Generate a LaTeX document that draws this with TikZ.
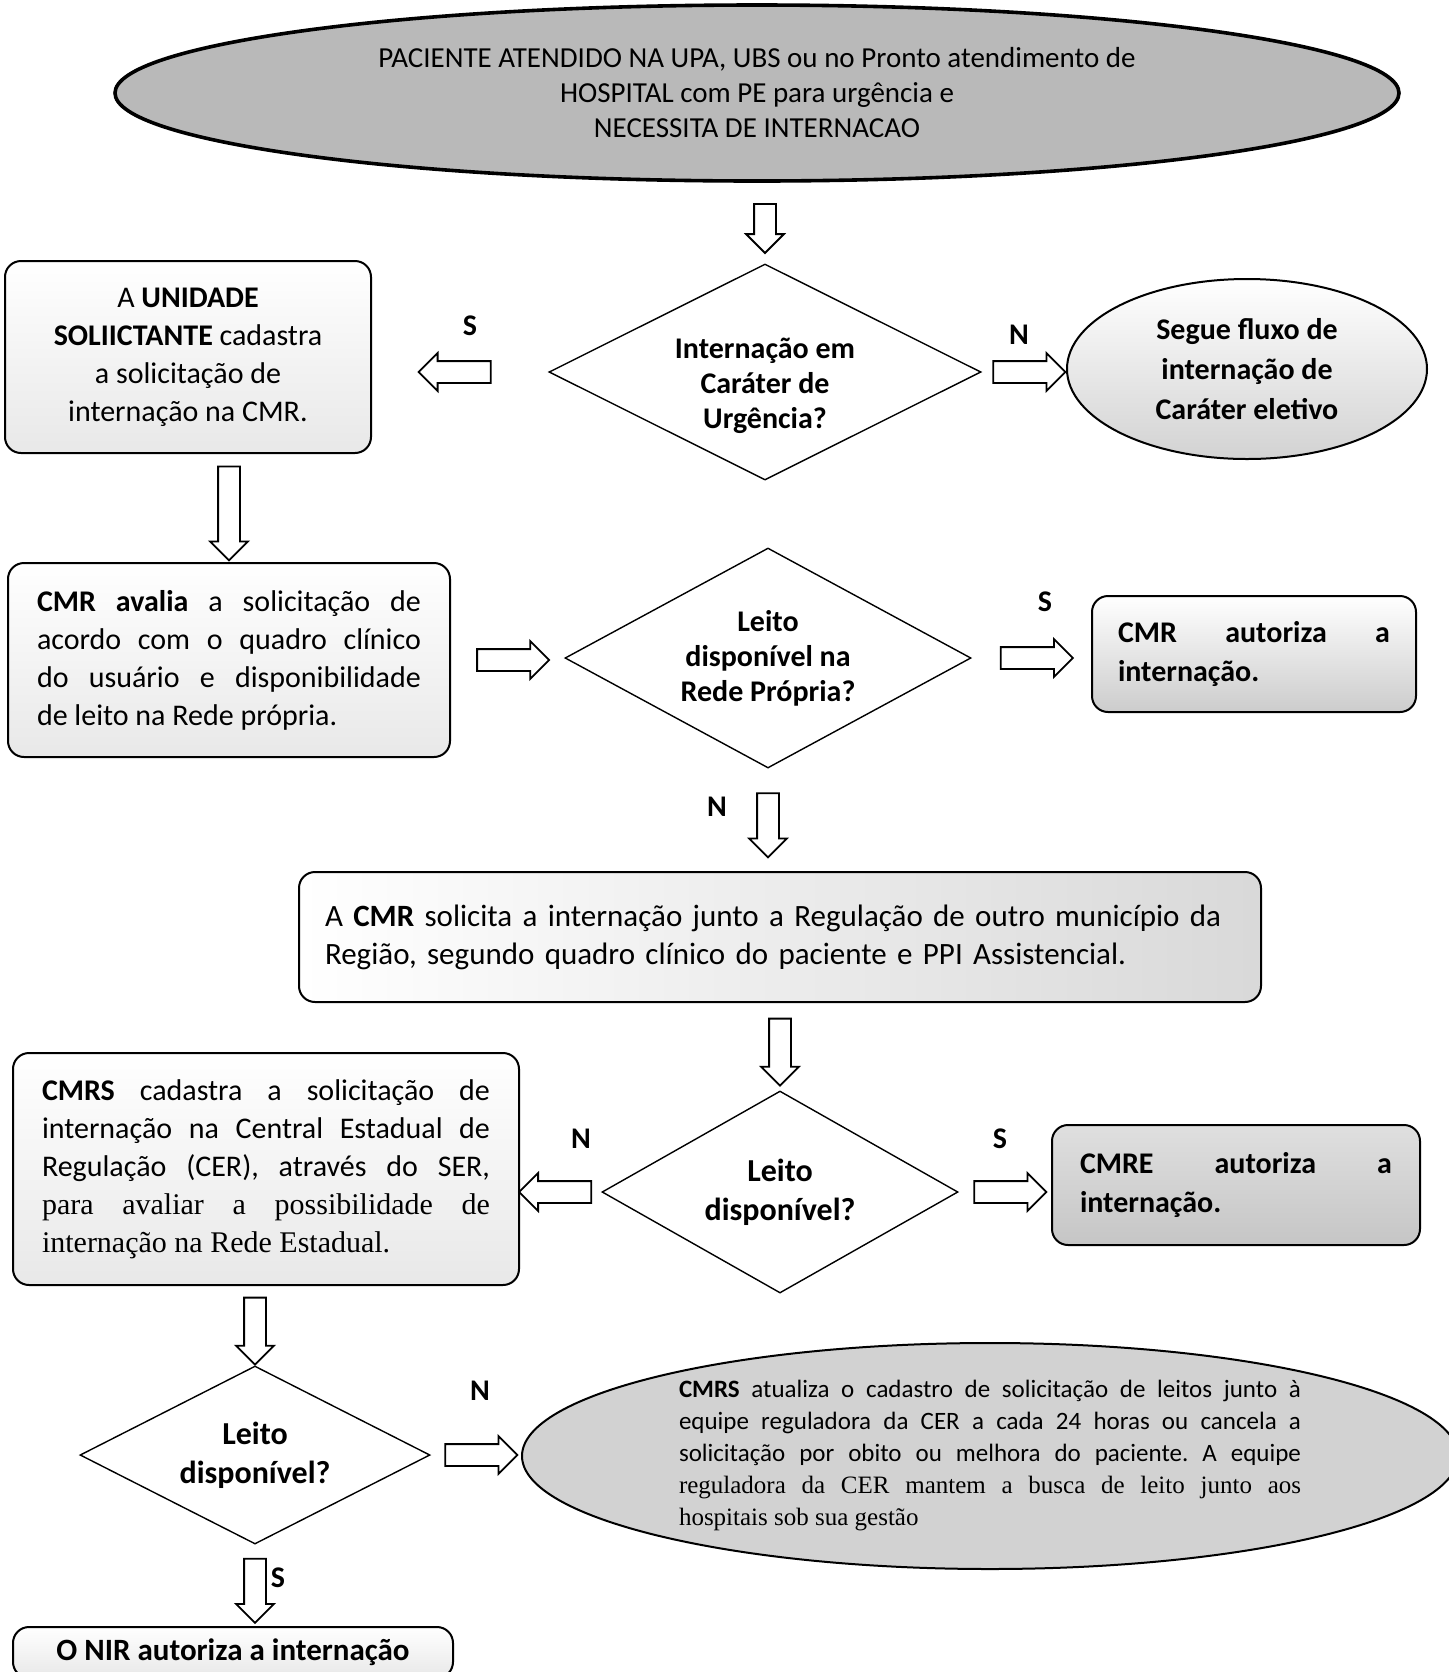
\documentclass[tikz,border=0pt]{standalone}
\usepackage{fontspec}
\setmainfont{Carlito}
\newfontfamily\tms{Liberation Serif}
\usetikzlibrary{shapes.geometric, shapes.arrows, decorations.markings, positioning}

\begin{document}
\frenchspacing
\begin{tikzpicture}[x=0.5pt, y=-0.5pt, font=\fontsize{15}{19}\selectfont, align=center,
  caixa/.style={draw, rounded corners=8pt, line width=1pt, top color=white, bottom color=gray!#1},
  caixa/.default=18,
  decisao/.style={draw, diamond, aspect=2, inner sep=0pt, line width=0.7pt, fill=white, font=\fontsize{15}{17.5}\selectfont\bfseries},
  oval/.style={draw, ellipse, inner sep=0pt, line width=1pt},
  rotulo/.style={font=\fontsize{15}{18}\selectfont\bfseries},
  seta/.style={draw=none, postaction=decorate, decoration={markings, mark=at position 0.5 with {\node[single arrow, draw, fill=white, line width=0.9pt, transform shape, inner xsep=0pt, inner ysep=5pt, minimum height=#1, minimum width=18pt, single arrow head extend=4pt] {};}}},
  seta/.default=36pt]
\useasboundingbox (0,0) rectangle (1448,1672);

\node (topo) [oval, line width=1.8pt, fill=gray!55, minimum width=642pt, minimum height=88pt, font=\fontsize{14.5}{17.5}\selectfont] at (757,93) {PACIENTE ATENDIDO NA UPA, UBS ou no Pronto atendimento de\\HOSPITAL com PE para urgência e\\NECESSITA DE INTERNACAO};
\node (urg) [decisao, minimum width=216pt, minimum height=108pt, label={[font=\fontsize{15}{17.5}\selectfont\bfseries, align=center, yshift=-7pt]center:Internação em\\Caráter de\\Urgência?}] at (765,372) {};
\node (sol) [caixa, minimum width=183pt, minimum height=96pt] at (188,357) {A \textbf{UNIDADE}\\\textbf{SOLIICTANTE} cadastra\\a solicitação de\\internação na CMR.};
\node (eletivo) [oval, top color=white, bottom color=gray!35, minimum width=180pt, minimum height=90pt, font=\fontsize{15}{20}\selectfont\bfseries] at (1247,369) {Segue fluxo de\\internação de\\Caráter eletivo};

\node (avalia) [caixa, minimum width=221pt, minimum height=97pt, text width=192pt, align=justify] at (229,660) {\textbf{CMR avalia} a solicitação de\linebreak acordo com o quadro clínico\linebreak do usuário e disponibilidade\linebreak de leito na Rede própria.};
\node (propria) [decisao, minimum width=203pt, minimum height=110pt] at (768,658) {Leito\\disponível na\\Rede Própria?};
\node (autoriza) [caixa=40, minimum width=162pt, minimum height=58pt, text width=136pt, align=justify, font=\fontsize{15}{19.5}\selectfont\bfseries] at (1254,654) {CMR autoriza a\linebreak internação.};

\node (regiao) [draw, rounded corners=8pt, line width=1pt, left color=white, right color=gray!30, minimum width=481pt, minimum height=65pt, text width=455pt, align=left, font=\fontsize{15.5}{19}\selectfont] at (780,937) {A \textbf{CMR} solicita a internação junto a Regulação de outro município da\\Região, segundo quadro clínico do paciente e PPI Assistencial.};

\node (leito) [decisao, minimum width=178pt, minimum height=101pt, font=\fontsize{16}{19.5}\selectfont\bfseries] at (780,1192) {Leito\\disponível?};
\node (estadual) [caixa, minimum width=253pt, minimum height=116pt, text width=224pt, align=justify] at (266,1169) {\textbf{CMRS} cadastra a solicitação de\linebreak internação na Central Estadual de\linebreak Regulação (CER), através do SER,\linebreak {\tms para avaliar a possibilidade de\linebreak internação na Rede Estadual.}};
\node (cmre) [draw, rounded corners=8pt, line width=1pt, top color=gray!25, bottom color=gray!45, minimum width=184pt, minimum height=60pt, text width=156pt, align=justify, font=\fontsize{15}{19.5}\selectfont\bfseries] at (1236,1185) {CMRE autoriza a\linebreak internação.};

\node (leitoest) [decisao, minimum width=175pt, minimum height=89pt, font=\fontsize{16}{19.5}\selectfont\bfseries] at (255,1455) {Leito\\disponível?};
\node (atualiza) [oval, fill=gray!35, minimum width=468pt, minimum height=113pt, text width=311pt, align=justify, font=\fontsize{12.5}{16}\selectfont] at (990,1456) {\textbf{CMRS} atualiza o cadastro de solicitação de leitos junto à\linebreak equipe reguladora da CER a cada 24 horas ou cancela a\linebreak solicitação por obito ou melhora do paciente. A equipe\linebreak {\tms reguladora da CER mantem a busca de leito junto aos\linebreak hospitais sob sua gestão}};
\node (nir) [caixa, anchor=north, minimum width=220pt, inner ysep=6pt, font=\fontsize{15.5}{19}\selectfont\bfseries] at (233,1626) {O NIR autoriza a internação};

% rotulos S / N
\node (s1) [rotulo] at (470,326) {S};
\node (n1) [rotulo] at (1019,335) {N};
\node (s2) [rotulo] at (1045,602) {S};
\node (n2) [rotulo] at (717,807) {N};
\node (n3) [rotulo] at (581,1139) {N};
\node (s3) [rotulo] at (1000,1139) {S};
\node (n4) [rotulo] at (480,1391) {N};
\node (s4) [rotulo] at (278,1578) {S};

\draw[seta=24.5pt] (topo.south -| urg.north) -- (urg.north);
\draw[seta] (urg.west) -- (urg.west -| sol.east);
\draw[seta] (urg.east) -- (urg.east -| eletivo.west);
\draw[seta=47pt] (sol.south -| avalia.north) -- (avalia.north);
\draw[seta] (avalia.east) -- (avalia.east -| propria.west);
\draw[seta] (propria.east) -- (propria.east -| autoriza.west);
\draw[seta=32pt] (propria.south) -- (propria.south |- regiao.north);
\draw[seta=33.5pt] (regiao.south -| leito.north) -- (leito.north);
\draw[seta] (leito.west) -- (leito.west -| estadual.east);
\draw[seta] (leito.east) -- (leito.east -| cmre.west);
\draw[seta=33.5pt] (estadual.south -| leitoest.north) -- (leitoest.north);
\draw[seta] (leitoest.east) -- (leitoest.east -| atualiza.west);
\draw[seta=32pt] (leitoest.south) -- (leitoest.south |- nir.north);
\end{tikzpicture}
\end{document}
